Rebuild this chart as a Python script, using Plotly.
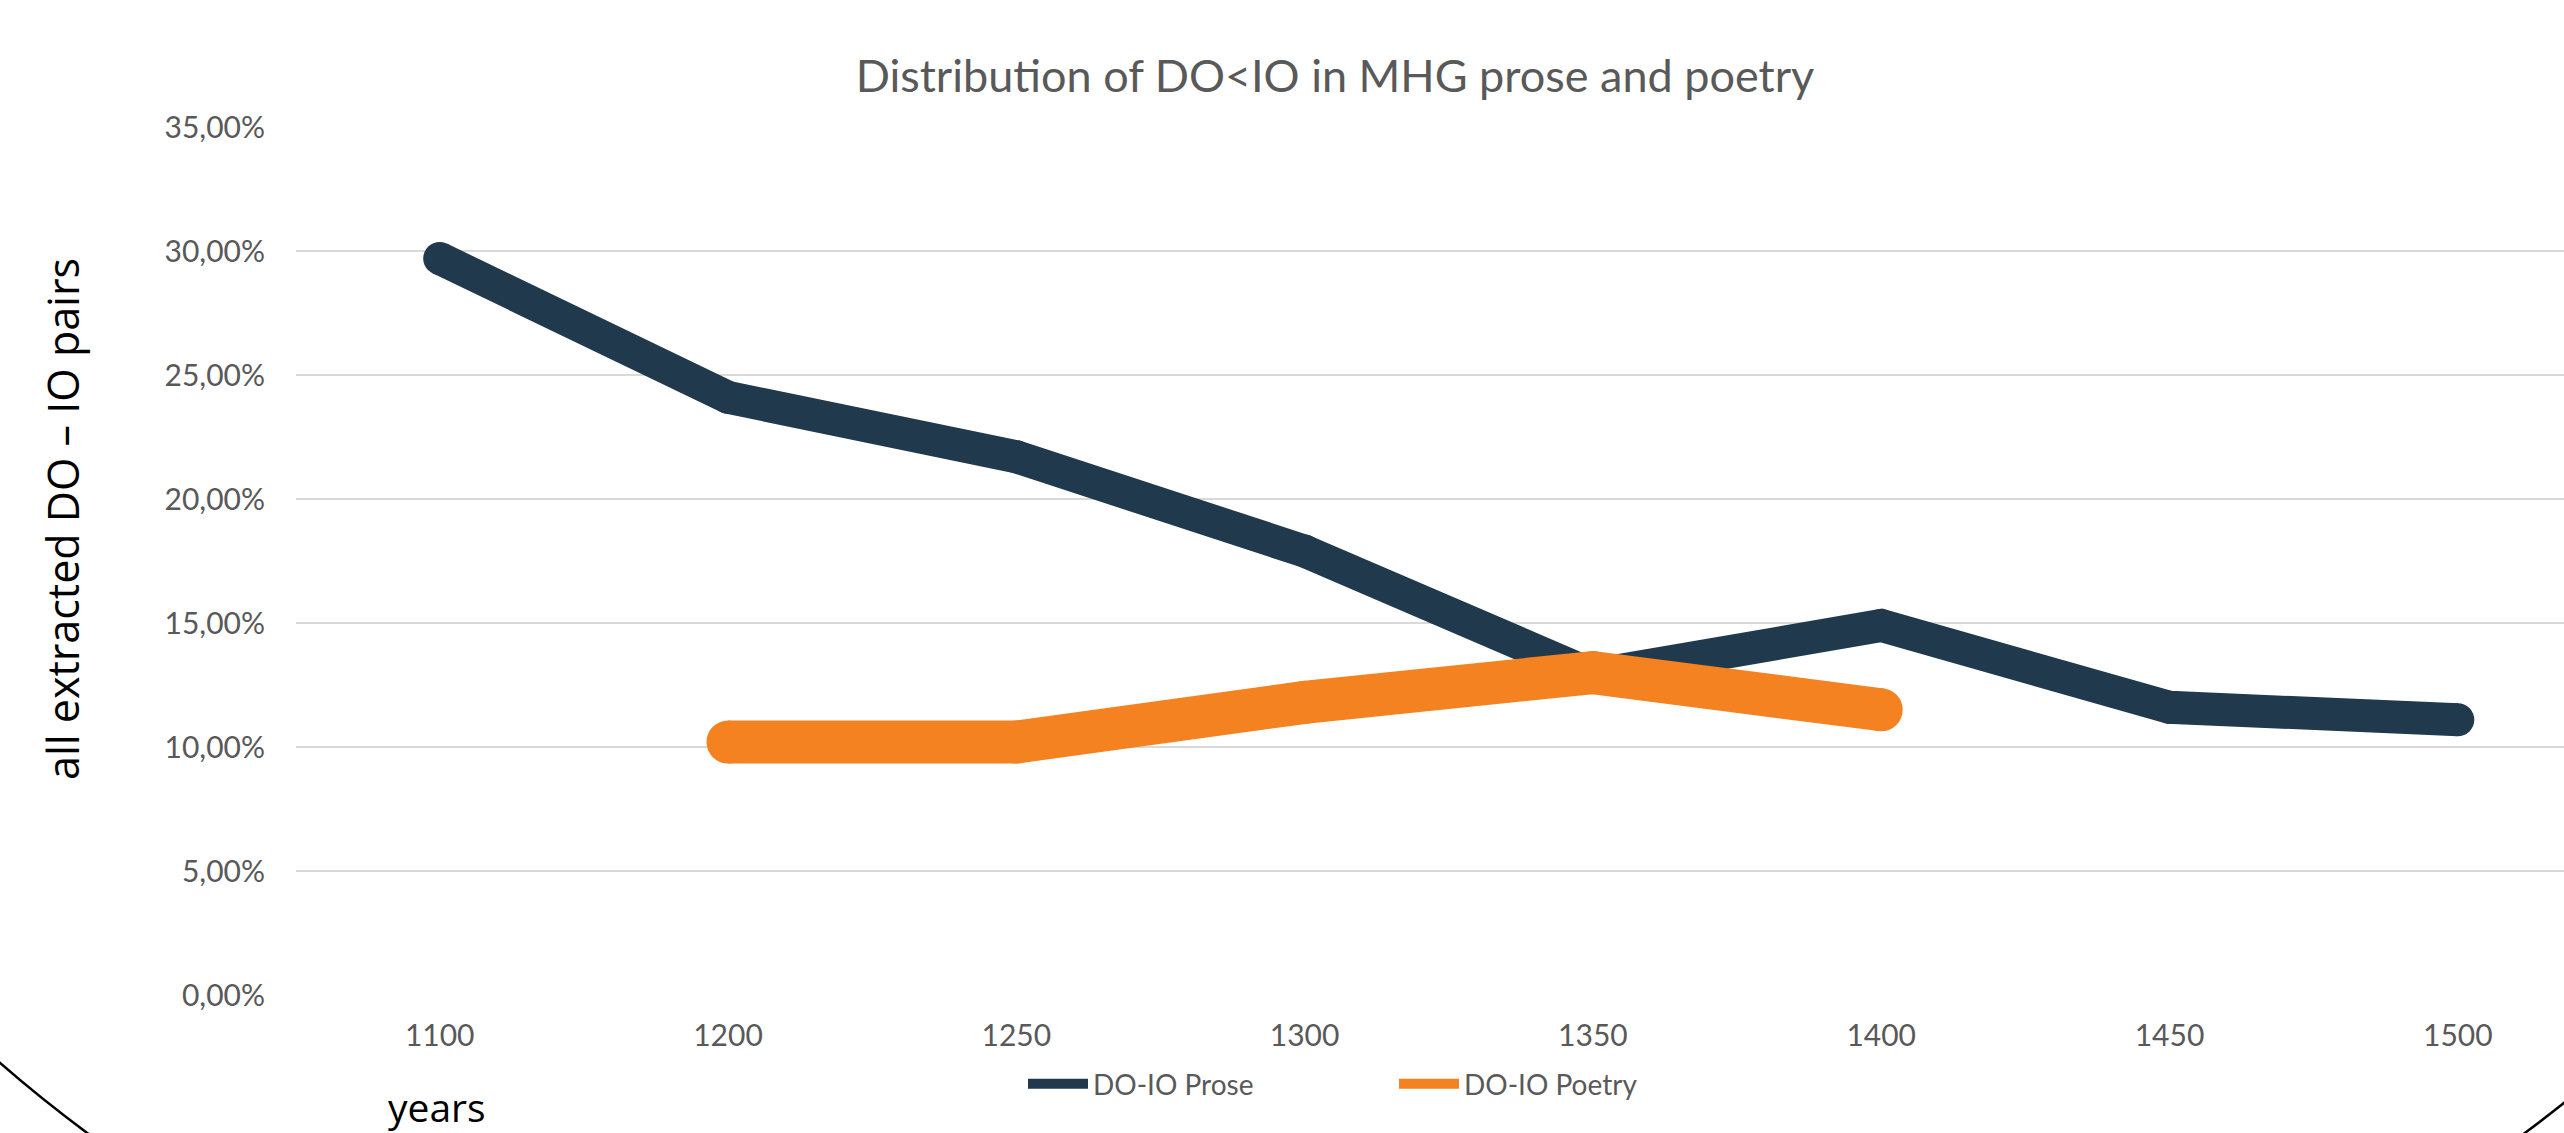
import plotly.graph_objects as go

# ---- data ----
years = ["1100", "1200", "1250", "1300", "1350", "1400", "1450", "1500"]
prose = [0.297, 0.241, 0.217, 0.179, 0.129, 0.149, 0.116, 0.111]
poetry = [None, 0.102, 0.102, 0.118, 0.130, 0.115, None, None]
y_ticks = [0.0, 0.05, 0.10, 0.15, 0.20, 0.25, 0.30, 0.35]
series_names = ["DO-IO Prose", "DO-IO Poetry"]
title_text = "Distribution of DO<IO in MHG prose and poetry"
y_title = "all extracted DO – IO pairs"
x_title = "years"

# ---- layout constants ----
W, H = 2564, 1133
L, R, T, B = 296, 0, 127, 138
PW, PH = W - L - R, H - T - B
NAVY = "#20394D"
ORANGE = "#F48221"
GREY = "#595959"
GRID = "#D9D9D9"
FONT = "Lato"
CAT_PX = 288.3            # pixels per category
FIRST_CAT_OFFSET = 143.7  # first category centre from plot left


def px(xp):
    return (xp - L) / PW


def py(yp):
    return (H - B - yp) / PH


fig = go.Figure()
fig.add_trace(go.Scatter(
    x=years, y=prose, mode="lines+markers", name=series_names[0],
    line=dict(color=NAVY, width=33), marker=dict(size=33, color=NAVY),
    showlegend=False, cliponaxis=False))
fig.add_trace(go.Scatter(
    x=years, y=poetry, mode="lines+markers", name=series_names[1],
    line=dict(color=ORANGE, width=43), marker=dict(size=43, color=ORANGE),
    connectgaps=False, showlegend=False, cliponaxis=False))
# legend entries
fig.add_trace(go.Scatter(x=[None], y=[None], mode="lines", name=series_names[0],
                         line=dict(color=NAVY, width=12)))
fig.add_trace(go.Scatter(x=[None], y=[None], mode="lines", name=series_names[1],
                         line=dict(color=ORANGE, width=12)))

x0 = -FIRST_CAT_OFFSET / CAT_PX
x1 = x0 + PW / CAT_PX

fig.update_layout(
    width=W, height=H,
    margin=dict(l=L, r=R, t=T, b=B, pad=0, autoexpand=False),
    paper_bgcolor="white", plot_bgcolor="white",
    separators=", ",
    title=dict(text=title_text, x=1335 / W, xref="container", xanchor="center",
               y=1 - 76 / H, yref="container", yanchor="middle",
               font=dict(family=FONT, size=45, color=GREY)),
    xaxis=dict(type="category", categoryorder="array", categoryarray=years,
               range=[x0, x1], showgrid=False, zeroline=False, showline=False,
               ticks="", tickfont=dict(family=FONT, size=30, color=GREY),
               ticklabelstandoff=20, automargin=False, fixedrange=True),
    yaxis=dict(range=[0, 0.35], tickvals=y_ticks, tickformat=".2%",
               showgrid=True, gridcolor=GRID, gridwidth=2, zeroline=False,
               showline=False, ticks="", tickfont=dict(family=FONT, size=30, color=GREY),
               ticklabelstandoff=30, automargin=False, fixedrange=True),
    legend=dict(orientation="h", x=px(1023), xanchor="left", y=py(1084), yanchor="middle",
                font=dict(family=FONT, size=28, color=GREY), bgcolor="rgba(0,0,0,0)",
                itemwidth=60, entrywidth=296, entrywidthmode="pixels"),
    showlegend=True,
)

fig.add_annotation(text=y_title, textangle=-90, xref="paper", yref="paper",
                   x=px(62), y=py(519), xanchor="center", yanchor="middle",
                   showarrow=False, font=dict(family="Open Sans", size=43, color="black"))
fig.add_annotation(text=x_title, xref="paper", yref="paper",
                   x=px(437), y=py(1106), xanchor="center", yanchor="middle",
                   showarrow=False, font=dict(family="Open Sans", size=39, color="black"))

# decorative ellipse (only its bottom arcs fall inside the picture)
fig.add_shape(type="circle", xref="paper", yref="paper",
              x0=px(1306 - 1674), x1=px(1306 + 1674),
              y0=py(331 + 1170), y1=py(331 - 1170),
              line=dict(color="black", width=2.5), fillcolor="rgba(0,0,0,0)", layer="above")

fig.write_html(
    "out.html",
    config={"displayModeBar": False},
    post_script="document.body.style.margin='0';document.body.style.overflow='hidden';",
)
